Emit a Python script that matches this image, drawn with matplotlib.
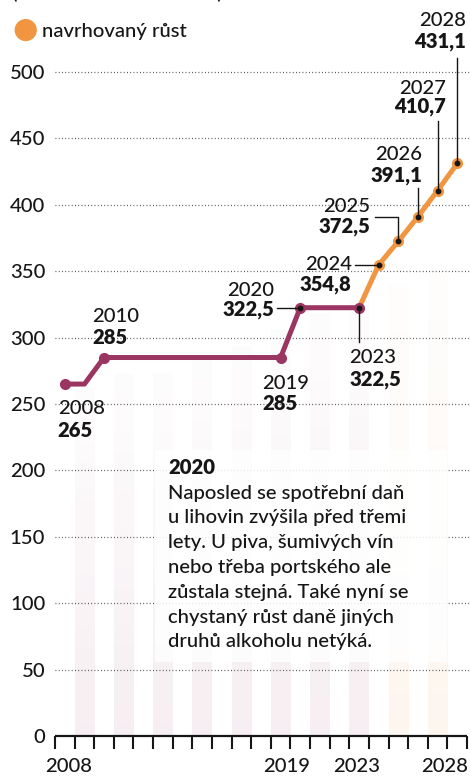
import matplotlib
matplotlib.use("Agg")
import matplotlib.pyplot as plt
import numpy as np
from matplotlib.patches import Rectangle

plt.rcParams['font.family'] = ['Lato', 'DejaVu Sans']

# ---------------- data ----------------
years = [2008, 2009, 2010, 2011, 2012, 2013, 2014, 2015, 2016, 2017, 2018,
         2019, 2020, 2021, 2022, 2023, 2024, 2025, 2026, 2027, 2028]
values = [265, 265, 285, 285, 285, 285, 285, 285, 285, 285, 285,
          285, 322.5, 322.5, 322.5, 322.5, 354.8, 372.5, 391.1, 410.7, 431.1]
proposed_from = 2023          # orange ("navrhovaný růst") segment starts here
marker_years = [2008, 2010, 2019, 2020, 2023]
labeled_years = [2008, 2010, 2019, 2020, 2023, 2024, 2025, 2026, 2027, 2028]
value_labels = ['265', '285', '285', '322,5', '322,5', '354,8', '372,5', '391,1', '410,7', '431,1']

# faint decorative background bars (odd years)
bg_years = [2009, 2011, 2013, 2015, 2017, 2019, 2021, 2023, 2025, 2027]
bg_heights = [262, 272, 273, 283, 293, 306, 318, 328, 340, 351]

yticks = [0, 50, 100, 150, 200, 250, 300, 350, 400, 450, 500]
xlabel_years = ['2008', '2019', '2023', '2028']
legend_label = 'navrhovaný růst'
subtitle = '(v Kč za litr čistého lihu)'
note_title = '2020'
note_lines = ['Naposled se spotřební daň',
              'u lihovin zvýšila před třemi',
              'lety. U piva, šumivých vín',
              'nebo třeba portského ale',
              'zůstala stejná. Také nyní se',
              'chystaný růst daně jiných',
              'druhů alkoholu netýká.']

# ---------------- style ----------------
PURPLE = '#9b3663'
ORANGE = '#f19540'
TXT = '#161616'
FS = 14.6
WREG = 'medium'
WBOLD = 'heavy'

W, H = 470, 777
fig = plt.figure(figsize=(W / 100, H / 100), dpi=100)
ax = fig.add_axes([55 / W, 41 / H, 412 / W, 736 / H])
ax.set_xlim(2007.5, 2028.5)
ax.set_ylim(0, 554.2)
for s in ax.spines.values():
    s.set_visible(False)

# background gradient bars
for yr, h in zip(bg_years, bg_heights):
    col = np.array(matplotlib.colors.to_rgb(ORANGE if yr > proposed_from else PURPLE))
    n = 200
    arr = np.zeros((n, 1, 4))
    arr[..., :3] = col
    arr[:, 0, 3] = np.linspace(0.012, 0.085, n)  # top (row 0) -> bottom
    ax.imshow(arr, extent=[yr - 0.5, yr + 0.5, 0, h], aspect='auto',
              interpolation='bilinear', zorder=0.5, origin='upper')
ax.set_xlim(2007.5, 2028.5)
ax.set_ylim(0, 554.2)

# gridlines
for t in yticks[1:]:
    ax.plot([2007.5, 2028.7], [t, t], color='#444444', lw=0.9,
            linestyle=(0, (0.7, 1.9)), zorder=1, clip_on=False)
ax.set_yticks(yticks)
ax.set_yticklabels([str(t) for t in yticks], fontsize=FS, color=TXT, fontweight=WREG)
ax.tick_params(axis='y', length=0, pad=7)

# x axis
ax.set_xticks(np.arange(2007.5, 2029.0, 1.0))
ax.set_xticklabels([])
ax.tick_params(axis='x', length=9, width=1.5, color=TXT, direction='out')
ax.plot([2007.5, 2028.5], [0, 0], color=TXT, lw=1.6, zorder=3, clip_on=False,
        solid_capstyle='butt')
xl_offsets = {'2008': 4, '2019': 6, '2023': -2, '2028': -13}
for lab in xlabel_years:
    ax.annotate(lab, (int(lab), 0), xytext=(xl_offsets[lab], -30),
                textcoords='offset pixels', ha='center', va='center',
                fontsize=FS, color=TXT, fontweight=WREG, annotation_clip=False)

# note box
x0 = ax.transData.inverted()
bx = x0.transform([(155, H - 662), (447, H - 450)])
ax.add_patch(Rectangle((bx[0, 0], bx[0, 1]), bx[1, 0] - bx[0, 0], bx[1, 1] - bx[0, 1],
                       facecolor='white', edgecolor='none', alpha=0.85, zorder=2))
fig.text(168 / W, 1 - 467 / H, note_title, fontsize=FS, fontweight=WBOLD,
         color=TXT, va='center', ha='left', zorder=3)
for i, line in enumerate(note_lines):
    fig.text(168 / W, 1 - (493 + 24.8 * i) / H, line, fontsize=FS, color=TXT,
             fontweight=WREG, va='center', ha='left', zorder=3)

# line
yrs = np.array(years)
vals = np.array(values)
m1 = yrs <= proposed_from
m2 = yrs >= proposed_from
ax.plot(yrs[m2], vals[m2], color=ORANGE, lw=3.6, zorder=4, solid_joinstyle='round',
        solid_capstyle='round')
ax.plot(yrs[m1], vals[m1], color=PURPLE, lw=3.6, zorder=4.1, solid_joinstyle='round',
        solid_capstyle='round')
vmap = dict(zip(years, values))
for yr in marker_years:
    ax.plot(yr, vmap[yr], 'o', color=PURPLE, ms=7, zorder=5)
for yr in years:
    if yr > proposed_from:
        ax.plot(yr, vmap[yr], 'o', color=ORANGE, ms=7, zorder=5)

# labels: (dx, dy_year, dy_value, ha, leader polyline offsets) in pixels
layout = {
    2008: (-7, -24, -46, 'left', None),
    2010: (-12, 41.5, 20.5, 'left', None),
    2019: (-18, -25.5, -45.5, 'left', None),
    2020: (-26, 17.7, -1.3, 'right', [(-23, 0), (0, 0)]),
    2023: (-10, -50, -72, 'left', [(0, 0), (0, -34)]),
    2024: (-27, 0, -20, 'right', [(-24, 0), (0, 0)]),
    2025: (-28, 35, 15, 'right', [(-23, 24), (0, 24), (0, 0)]),
    2026: (4, 62.6, 41.6, 'right', [(0, 29), (0, 0)]),
    2027: (8, 101.6, 83.6, 'right', [(0, 70), (0, 0)]),
    2028: (9, 142.5, 121.5, 'right', [(0, 105), (0, 0)]),
}
for yr, vl in zip(labeled_years, value_labels):
    dx, dy1, dy2, ha, leader = layout[yr]
    p = (yr, vmap[yr])
    ax.annotate(str(yr), p, xytext=(dx, dy1), textcoords='offset pixels',
                ha=ha, va='center', fontsize=FS, color=TXT, fontweight=WREG,
                zorder=8, annotation_clip=False)
    ax.annotate(vl, p, xytext=(dx, dy2), textcoords='offset pixels',
                ha=ha, va='center', fontsize=FS, fontweight=WBOLD, color=TXT,
                zorder=8, annotation_clip=False)
    if leader:
        pd = ax.transData.transform(p)
        pts = x0.transform([(pd[0] + ox, pd[1] + oy) for ox, oy in leader])
        ax.plot(pts[:, 0], pts[:, 1], color=TXT, lw=1.0, zorder=6, clip_on=False)
        ax.plot(yr, vmap[yr], 'o', color=TXT, ms=3.2, zorder=7)

# legend
fig.text(25 / W, 1 - 30 / H, '●', fontsize=21, color=ORANGE, ha='center', va='center',
         family='DejaVu Sans')
fig.text(42 / W, 1 - 31 / H, legend_label, fontsize=FS, color=TXT, fontweight=WREG,
         ha='left', va='center')

# subtitle (cut off at the top edge, as in the source)
fig.text(12 / W, 1 + 1 / H, subtitle, fontsize=FS, color=TXT, fontweight=WREG,
         ha='left', va='baseline')

fig.savefig('out.png', dpi=100)
